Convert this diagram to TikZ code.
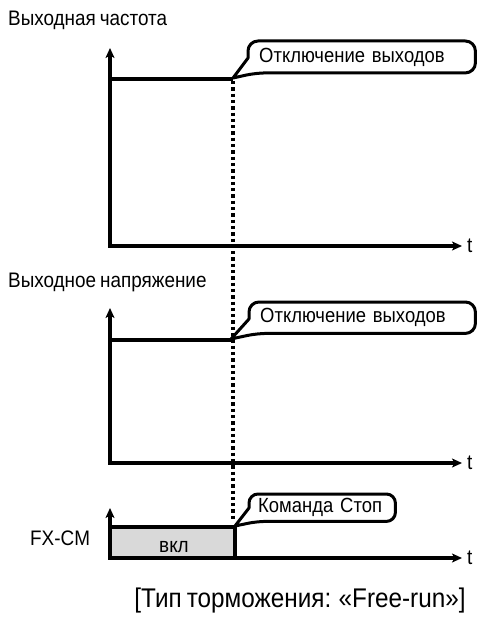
\documentclass[tikz,border=0pt]{standalone}
\usepackage{fontspec}
\setmainfont[FakeStretch=0.9,WordSpace=0.75]{Liberation Sans}
\usetikzlibrary{arrows.meta}
\definecolor{onfill}{HTML}{D9D9D9}
\begin{document}
\begin{tikzpicture}[x=1pt,y=-1pt,
  tip/.tip={Stealth[length=10pt,width=9pt,inset=2.5pt]},
  axis/.style={line width=3.8pt,{tip}-{tip}},
  level/.style={line width=3.8pt},
  dotline/.style={line width=3.5pt,dash pattern=on 3.3pt off 3pt},
  cline/.style={line width=3pt,line join=round},
  lbl/.style={font=\fontsize{21}{24}\selectfont,inner sep=0pt},
  cbox/.style={font=\fontsize{20.5}{24}\selectfont,inner ysep=0pt,inner xsep=11pt,align=left}
]
\useasboundingbox (0,0) rectangle (481,626);

% ---------- titles ----------
\node[lbl,anchor=base west] (title1) at (8,26) {Выходная частота};
\node[lbl,anchor=base west] (title2) at (8,287) {Выходное напряжение};
\node[lbl,anchor=base west] (title3) at (30,545) {FX-CM};

% ---------- chart 1 ----------
\coordinate (top1) at (110,48);
\coordinate (o1) at (110,246);
\coordinate (end1) at (462,246);
\coordinate (l1a) at (110,79);
\coordinate (l1b) at (233,79);
\draw[axis] (top1) -- (o1) -- (end1);
\draw[level] (l1a) -- (l1b);
\node[lbl,anchor=west] (t1) at (467,246) {t};

% ---------- chart 2 ----------
\coordinate (top2) at (110,308);
\coordinate (o2) at (110,463);
\coordinate (end2) at (462,463);
\coordinate (l2a) at (110,340);
\coordinate (l2b) at (231,340);
\draw[axis] (top2) -- (o2) -- (end2);
\draw[level] (l2a) -- (l2b);
\node[lbl,anchor=west] (t2) at (467,463) {t};

% ---------- chart 3 ----------
\coordinate (top3) at (110,508);
\coordinate (o3) at (110,558);
\coordinate (end3) at (462,558);
\coordinate (g1) at (110,527);
\coordinate (g2) at (235,527);
\coordinate (g3) at (235,558);
\fill[onfill] (g1) rectangle (g3);
\draw[level] (g1) -- (g2) -- (g3);
\draw[axis] (top3) -- (o3) -- (end3);
\node[lbl,anchor=west] (t3) at (467,558) {t};
\node[lbl,anchor=base] (on) at (174,552) {вкл};

% ---------- dotted cut-off line ----------
\coordinate (d1) at (233,81);
\coordinate (d2) at (233,521);
\draw[dotline] (d1) -- (d2);

% ---------- callouts ----------
\node[cbox,anchor=north west,text width=205pt,minimum width=227pt,minimum height=31.5pt] (b1) at (248,41) {Отключение выходов};
\coordinate (p1) at (233,78);
\draw[cline] (p1) -- ([yshift=-17pt]b1.north west) [rounded corners=10pt] -- (b1.north west) -- (b1.north east) -- (b1.south east) -- ([xshift=8pt]b1.south west) [sharp corners] -- cycle;

\node[cbox,anchor=north west,text width=204pt,minimum width=226pt,minimum height=31pt] (b2) at (249,302) {Отключение выходов};
\coordinate (p2) at (231,339);
\draw[cline] (p2) -- ([yshift=-17pt]b2.north west) [rounded corners=10pt] -- (b2.north west) -- (b2.north east) -- (b2.south east) -- ([xshift=8pt]b2.south west) [sharp corners] -- cycle;

\node[cbox,anchor=north west,inner xsep=9pt,text width=128pt,minimum width=146pt,minimum height=27pt] (b3) at (249,494) {Команда Стоп};
\coordinate (p3) at (235,526);
\draw[cline] (p3) -- ([yshift=-14pt]b3.north west) [rounded corners=9pt] -- (b3.north west) -- (b3.north east) -- (b3.south east) -- ([xshift=8pt]b3.south west) [sharp corners] -- cycle;

% ---------- caption ----------
\node[font=\fontsize{27}{30}\selectfont,inner sep=0pt,anchor=base] (cap) at (300,607) {[Тип торможения: «Free-run»]};
\end{tikzpicture}
\end{document}
